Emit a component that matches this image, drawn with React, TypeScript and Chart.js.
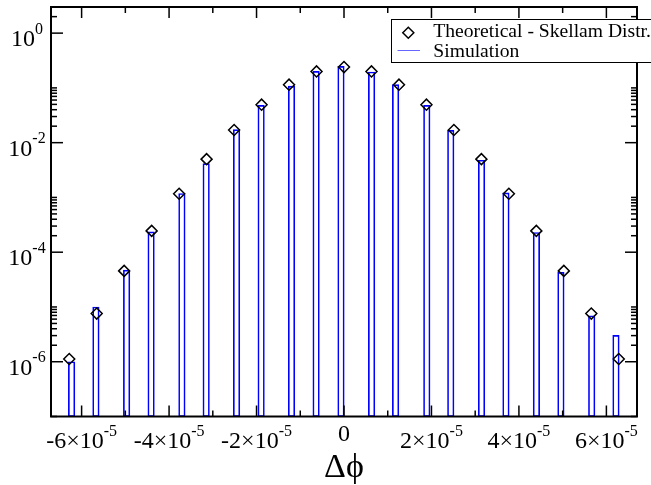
import { useEffect, useRef } from 'react';
import { Chart, registerables } from 'chart.js';

Chart.register(...registerables);

// Lattice positions of the theoretical Skellam distribution (Δϕ)
const latticeX = [
  -6.283e-5, -5.655e-5, -5.027e-5, -4.398e-5, -3.770e-5, -3.142e-5, -2.513e-5,
  -1.885e-5, -1.257e-5, -6.283e-6, 0, 6.283e-6, 1.257e-5, 1.885e-5, 2.513e-5,
  3.142e-5, 3.770e-5, 4.398e-5, 5.027e-5, 5.655e-5, 6.283e-5,
];
const theoretical = [
  1.12e-6, 7.57e-6, 4.56e-5, 2.45e-4, 1.17e-3, 5.0e-3, 1.70e-2, 4.94e-2, 0.1146,
  0.200, 0.240, 0.200, 0.1146, 0.0494, 0.0170, 5.0e-3, 1.17e-3, 2.45e-4, 4.56e-5,
  7.57e-6, 1.12e-6,
];

// Simulation histogram bins (centre) and heights
const simBinX = [
  -6.229e-5, -5.673e-5, -4.971e-5, -4.411e-5, -3.707e-5, -3.152e-5, -2.457e-5,
  -1.895e-5, -1.2e-5, -6.38e-6, -6.9e-7, 6.31e-6, 1.18e-5, 1.893e-5, 2.441e-5,
  3.145e-5, 3.703e-5, 4.4e-5, 4.96e-5, 5.664e-5, 6.219e-5,
];
const simulation = [
  1.0e-6, 1.0e-5, 4.7e-5, 2.35e-4, 1.18e-3, 4.15e-3, 1.73e-2, 4.8e-2, 0.108,
  0.200, 0.247, 0.195, 0.115, 0.048, 0.0168, 4.77e-3, 1.21e-3, 2.29e-4, 4.27e-5,
  6.9e-6, 3.03e-6,
];

// Axis ticks
const xMajorTicks = [-6e-5, -4e-5, -2e-5, 0, 2e-5, 4e-5, 6e-5];
const xMinorTicks = [-5e-5, -3e-5, -1e-5, 1e-5, 3e-5, 5e-5];
const xTickMain = ['-6×10', '-4×10', '-2×10', '0', '2×10', '4×10', '6×10'];
const xTickSup = ['-5', '-5', '-5', '', '-5', '-5', '-5'];
const yMajorTicks = [1, 1e-2, 1e-4, 1e-6];
const yTickMain = ['10', '10', '10', '10'];
const yTickSup = ['0', '-2', '-4', '-6'];
const yMinorMantissas = [2, 3, 4, 5, 6, 7, 8, 9, 10];
const yMinorDecades = [1e-8, 1e-6, 1e-4, 1e-2, 1];

const X_MIN = -6.7e-5;
const X_MAX = 6.7e-5;
const Y_MIN = 1e-7;
const Y_MAX = 3;

const FONT = "'Liberation Serif', 'Times New Roman', serif";
const BLUE = '#0000ff';

const axesPlugin = {
  id: 'graceAxes',
  afterDraw(chart: any) {
    const { ctx, chartArea: a, scales } = chart;
    const x = scales.x;
    const y = scales.y;
    ctx.save();

    const line = (x1: number, y1: number, x2: number, y2: number) => {
      ctx.beginPath();
      ctx.moveTo(x1, y1);
      ctx.lineTo(x2, y2);
      ctx.stroke();
    };

    // ticks
    ctx.strokeStyle = '#000';
    ctx.lineWidth = 1.5;
    const xt = (v: number, len: number) => {
      const px = x.getPixelForValue(v);
      line(px, a.bottom, px, a.bottom - len);
      line(px, a.top, px, a.top + len);
    };
    const yt = (v: number, len: number) => {
      if (v < Y_MIN || v > Y_MAX) return;
      const py = y.getPixelForValue(v);
      line(a.left, py, a.left + len, py);
      line(a.right, py, a.right - len, py);
    };
    xMajorTicks.forEach((v) => xt(v, 11));
    xMinorTicks.forEach((v) => xt(v, 6));
    yMajorTicks.forEach((v) => yt(v, 12));
    yMinorDecades.forEach((d) => yMinorMantissas.forEach((m) => yt(m * d, 6)));

    // frame
    ctx.lineWidth = 2;
    ctx.strokeRect(a.left, a.top, a.right - a.left, a.bottom - a.top);

    // tick labels
    ctx.fillStyle = '#000';
    ctx.textAlign = 'left';
    ctx.textBaseline = 'alphabetic';
    const mainFont = `24px ${FONT}`;
    const supFont = `16px ${FONT}`;
    yMajorTicks.forEach((v, i) => {
      const py = y.getPixelForValue(v);
      ctx.font = mainFont;
      const wm = ctx.measureText(yTickMain[i]).width;
      ctx.font = supFont;
      const ws = ctx.measureText(yTickSup[i]).width;
      const start = 27 - (wm + ws) / 2;
      ctx.font = mainFont;
      ctx.fillText(yTickMain[i], start, py + 13);
      ctx.font = supFont;
      ctx.fillText(yTickSup[i], start + wm, py + 0.5);
    });
    xMajorTicks.forEach((v, i) => {
      const px = x.getPixelForValue(v);
      ctx.font = mainFont;
      const wm = ctx.measureText(xTickMain[i]).width;
      if (!xTickSup[i]) {
        ctx.fillText(xTickMain[i], px - wm / 2, a.bottom + 24.7);
        return;
      }
      ctx.font = supFont;
      const ws = ctx.measureText(xTickSup[i]).width;
      const start = px - (wm + ws) / 2;
      ctx.font = mainFont;
      ctx.fillText(xTickMain[i], start, a.bottom + 31.5);
      ctx.font = supFont;
      ctx.fillText(xTickSup[i], start + wm, a.bottom + 19.5);
    });

    // axis title
    ctx.font = `34px ${FONT}`;
    ctx.textAlign = 'center';
    ctx.fillText('\u0394\u03D5', (a.left + a.right) / 2, a.bottom + 60.5);

    // legend
    const ds = chart.data.datasets;
    ctx.fillStyle = '#fff';
    ctx.fillRect(391, 19.5, 300, 43);
    ctx.strokeStyle = '#000';
    ctx.lineWidth = 1;
    ctx.strokeRect(391.5, 19.5, 300, 43);
    const cx = 408.3;
    const cy = 32.7;
    const r = 5.5;
    ctx.lineWidth = 1.5;
    ctx.beginPath();
    ctx.moveTo(cx, cy - r);
    ctx.lineTo(cx + r, cy);
    ctx.lineTo(cx, cy + r);
    ctx.lineTo(cx - r, cy);
    ctx.closePath();
    ctx.stroke();
    ctx.strokeStyle = 'rgba(0,0,255,0.6)';
    ctx.lineWidth = 1;
    line(397.5, 50.5, 420, 50.5);
    ctx.fillStyle = '#000';
    ctx.textAlign = 'left';
    ctx.font = `19.6px ${FONT}`;
    ctx.fillText(ds[0].label, 433.3, 36.7);
    ctx.fillText(ds[1].label, 433.3, 56.7);

    ctx.restore();
  },
};

export default function App() {
  const canvasRef = useRef<HTMLCanvasElement | null>(null);

  useEffect(() => {
    const canvas = canvasRef.current;
    if (!canvas) return;
    const chart = new Chart(canvas, {
      type: 'bar',
      data: {
        datasets: [
          {
            type: 'scatter',
            label: 'Theoretical - Skellam Distr.',
            data: latticeX.map((xv, i) => ({ x: xv, y: theoretical[i] })),
            pointStyle: 'rectRot',
            pointRadius: 5.5,
            borderColor: '#000',
            borderWidth: 1.5,
            backgroundColor: 'rgba(0,0,0,0)',
            order: 0,
          } as any,
          {
            type: 'bar',
            label: 'Simulation',
            data: simBinX.map((xv, i) => ({ x: xv, y: simulation[i] })),
            borderColor: BLUE,
            borderWidth: 1,
            backgroundColor: 'rgba(0,0,0,0)',
            borderSkipped: false,
            barThickness: 6.5,
            order: 1,
          } as any,
        ],
      },
      options: {
        animation: false,
        responsive: false,
        devicePixelRatio: 1,
        layout: { padding: { left: 51, right: 14, top: 6.5, bottom: 68.5 } },
        plugins: { legend: { display: false }, tooltip: { enabled: false } },
        scales: {
          x: {
            type: 'linear',
            offset: false,
            min: X_MIN,
            max: X_MAX,
            grid: { display: false, drawTicks: false, offset: false },
            border: { display: false },
            ticks: { display: false },
            afterFit: (s: any) => {
              s.height = 0;
            },
          },
          y: {
            type: 'logarithmic',
            min: Y_MIN,
            max: Y_MAX,
            grid: { display: false, drawTicks: false },
            border: { display: false },
            ticks: { display: false },
            afterFit: (s: any) => {
              s.width = 0;
            },
          },
        },
      } as any,
      plugins: [axesPlugin],
    });
    return () => chart.destroy();
  }, []);

  return (
    <div style={{ position: 'fixed', left: 0, top: 0, width: 651, height: 485, background: '#fff' }}>
      <canvas ref={canvasRef} width={651} height={485} style={{ display: 'block' }} />
    </div>
  );
}
